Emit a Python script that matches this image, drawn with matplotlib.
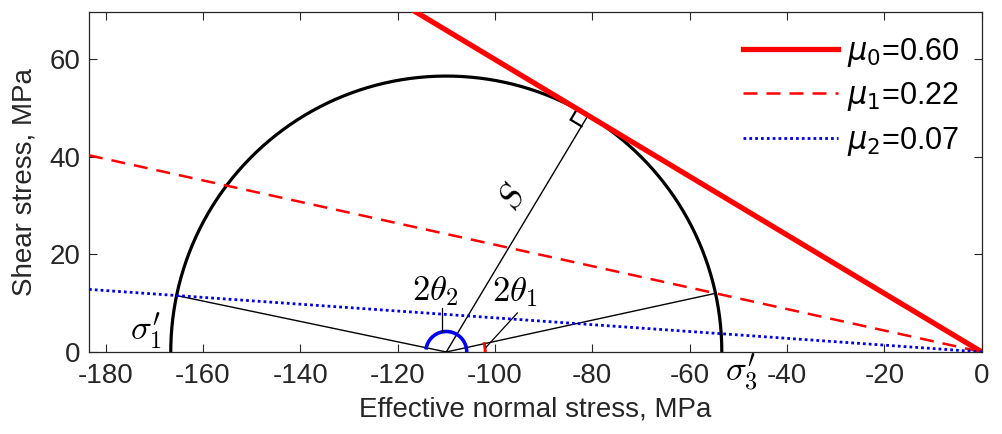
import numpy as np
import matplotlib
matplotlib.use("Agg")
import matplotlib.pyplot as plt

# ---- data ----
mu_values = [0.60, 0.22, 0.07]
mu_labels = [r"$\mu_0$=0.60", r"$\mu_1$=0.22", r"$\mu_2$=0.07"]
sigma1 = -166.6   # effective max principal stress (MPa)
sigma3 = -53.4    # effective min principal stress (MPa)
x_ticks = [-180, -160, -140, -120, -100, -80, -60, -40, -20, 0]
y_ticks = [0, 20, 40, 60]

plt.rcParams['font.family'] = ['Liberation Sans', 'DejaVu Sans']
grey = (0.15, 0.15, 0.15)

fig = plt.figure(figsize=(10.02, 4.34), dpi=100)
ax = fig.add_axes([0.0888, 0.189, 0.8910, 0.784])

center = 0.5 * (sigma1 + sigma3)
R = 0.5 * (sigma3 - sigma1)

xmin, xmax = -183.4, 0.0
ymin, ymax = 0.0, 69.8

# friction lines
styles = [dict(color='red', lw=3.8, ls='-'),
          dict(color='red', lw=1.8, ls=(0, (5.6, 3.6))),
          dict(color='#0000dd', lw=2.0, ls=(0, (1.0, 1.1)))]
xs = np.array([xmin, 0.0])
handles = []
for mu, lab, st in zip(mu_values, mu_labels, styles):
    h, = ax.plot(xs, -mu * xs, label=lab, **st, zorder=3)
    handles.append(h)

# Mohr semicircle
th = np.linspace(0, np.pi, 400)
ax.plot(center + R * np.cos(th), R * np.sin(th), color='black', lw=2.3, zorder=2)

# intersections
def intersect(mu, which):
    a = 1 + mu ** 2
    b = -2 * center
    c = center ** 2 - R ** 2
    disc = np.sqrt(b * b - 4 * a * c)
    roots = [(-b - disc) / (2 * a), (-b + disc) / (2 * a)]
    x = max(roots) if which == 'right' else min(roots)
    return x, -mu * x

p1 = intersect(mu_values[1], 'right')
p2 = intersect(mu_values[2], 'left')
ax.plot([center, p1[0]], [0, p1[1]], color='black', lw=1.0, zorder=2)
ax.plot([center, p2[0]], [0, p2[1]], color='black', lw=1.0, zorder=2)

# tangent point with mu0
m0 = mu_values[0]
nvec = np.array([m0, 1.0]) / np.hypot(m0, 1.0)
dist = abs(m0 * center) / np.hypot(m0, 1.0)
T = np.array([center, 0.0]) + dist * nvec
ax.plot([center, T[0]], [0, T[1]], color='black', lw=1.0, zorder=2)
# right-angle marker
s = 2.6
u_line = np.array([-1.0, m0]) / np.hypot(m0, 1.0)
u_in = -nvec
sq = np.array([T + s * u_line, T + s * u_line + s * u_in, T + s * u_in])
ax.plot(sq[:, 0], sq[:, 1], color='black', lw=1.6, zorder=2, solid_joinstyle='miter')

# angle arcs
a1 = np.arctan2(p1[1], p1[0] - center)
a2 = np.arctan2(p2[1], p2[0] - center)
t1 = np.linspace(0, a1, 50)
ax.plot(center + 8.0 * np.cos(t1), 8.0 * np.sin(t1), color='red', lw=2.2, zorder=4)
t2 = np.linspace(0, a2, 100)
ax.plot(center + 4.2 * np.cos(t2), 4.2 * np.sin(t2), color='#0000ee', lw=2.6, zorder=4)

# leader lines
ax.plot([-110.8, -110.8], [4.3, 9.0], color='black', lw=0.9, zorder=4)
ax.plot([-101.8, -95.4], [1.0, 8.0], color='black', lw=0.9, zorder=4)

# annotations
tk = dict(math_fontfamily='cm', fontsize=25, ha='center', va='center', zorder=5)
ax.text(-112.3, 12.6, r"$2\theta_2$", **tk)
ax.text(-96.0, 12.3, r"$2\theta_1$", **tk)
ax.text(-171.6, 4.3, r"$\sigma_1'$", **tk)
ax.text(-49.4, -4.1, r"$\sigma_3'$", clip_on=False, **tk)
ax.text(-96.4, 31.8, r"$S$", rotation=59, rotation_mode='anchor', **tk)

ax.set_xlim(xmin, xmax)
ax.set_ylim(ymin, ymax)
ax.set_xticks(x_ticks)
ax.set_yticks(y_ticks)
ax.set_xticklabels([str(v) for v in x_ticks])
ax.set_yticklabels([str(v) for v in y_ticks])
ax.tick_params(direction='in', top=True, right=True, length=6, width=0.8,
               labelsize=20, colors=grey, labelcolor=grey)
ax.tick_params(axis='x', pad=8)
ax.tick_params(axis='y', pad=6)
for sp in ax.spines.values():
    sp.set_color(grey)
    sp.set_linewidth(0.9)
ax.set_xlabel("Effective normal stress, MPa", fontsize=20, color=grey, labelpad=5)
ax.set_ylabel("Shear stress, MPa", fontsize=20, color=grey, labelpad=9)

leg = ax.legend(handles=handles, loc='upper left', bbox_to_anchor=(0.7324, 0.930),
                frameon=False, fontsize=22, handlelength=3.1, handletextpad=0.3,
                labelspacing=0.38, borderaxespad=0.0, borderpad=0.0)
for t in leg.get_texts():
    t.set_math_fontfamily('dejavusans')
    t.set_color('black')

fig.savefig("out.png", dpi=100)
